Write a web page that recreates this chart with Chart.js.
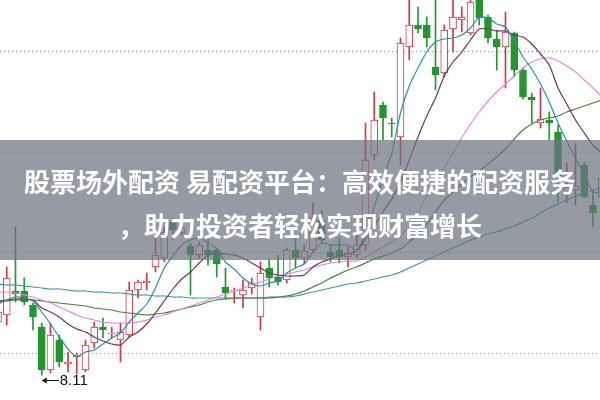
<!DOCTYPE html>
<html>
<head>
<meta charset="utf-8">
<title>K线</title>
<script src="https://cdn.jsdelivr.net/npm/chart.js@4.4.0/dist/chart.umd.min.js"></script>
<style>
  html, body { margin: 0; padding: 0; background: #fff; }
  #wrap { position: relative; width: 600px; height: 400px; overflow: hidden; }
  #kline { display: block; }
  #banner {
    position: absolute; left: 0; top: 140px; width: 600px; height: 120px;
    background: rgba(108, 115, 128, 0.72);
    padding-top: 19px; box-sizing: border-box;
  }
  #banner .line {
    font-family: "Noto Sans CJK SC", "Noto Sans", sans-serif;
    font-weight: 700; font-size: 26px; line-height: 44px;
    color: #fff; text-align: center; white-space: nowrap;
  }
</style>
</head>
<body>
<div id="wrap">
  <canvas id="kline" width="600" height="400"></canvas>
  <div id="banner">
    <div class="line">股票场外配资 易配资平台：高效便捷的配资服务</div>
    <div class="line">，助力投资者轻松实现财富增长</div>
  </div>
</div>
<script>
// =============================================
// Data (price per bar)
// =============================================
const opens = [8.64, 8.71, 8.95, 8.95, 8.81, 8.59, 8.16, 8.46, 8.22, 8.29,
  8.16, 8.43, 8.59, 8.52, 8.46, 8.51, 8.96, 9.03, 9.19, 9.28,
  9.64, 9.53, 9.40, 9.31, 9.36, 9.36, 8.99, 8.95, 8.91, 8.98,
  8.69, 9.18, 9.09, 9.06, 9.36, 9.28, 9.36, 9.66, 9.34, 9.36,
  9.29, 9.31, 9.41, 10.31, 10.81, 10.63, 10.49, 11.39, 11.61, 11.61,
  11.19, 11.13, 11.57, 11.66, 11.53, 11.91, 11.69, 11.47, 11.39, 11.53,
  11.16, 10.89, 10.63, 10.66, 10.54, 9.91, 9.96, 10.21, 9.81, 9.89];
const highs = [8.86, 9.19, 9.59, 9.08, 8.83, 8.63, 8.63, 8.51, 8.34, 8.33,
  8.46, 8.64, 8.68, 8.59, 8.63, 9.04, 9.06, 9.13, 9.54, 9.59,
  9.68, 9.61, 9.43, 9.44, 9.49, 9.38, 9.18, 8.98, 9.06, 9.08,
  9.24, 9.27, 9.31, 9.38, 9.50, 9.41, 9.83, 9.76, 9.41, 9.49,
  9.39, 9.56, 10.63, 10.94, 10.84, 10.68, 11.48, 11.91, 11.79, 11.69,
  11.96, 11.61, 11.91, 11.79, 11.88, 12.01, 11.71, 11.56, 11.74, 11.54,
  11.18, 10.93, 10.98, 10.74, 10.61, 10.23, 10.43, 10.24, 9.96, 10.16];
const lows = [8.56, 8.61, 8.84, 8.81, 8.56, 8.11, 8.13, 8.19, 8.14, 8.12,
  8.14, 8.38, 8.48, 8.48, 8.24, 8.49, 8.88, 8.96, 9.14, 9.24,
  9.46, 9.51, 8.91, 9.28, 9.21, 9.09, 8.87, 8.83, 8.78, 8.92,
  8.56, 8.99, 9.01, 9.03, 9.18, 9.22, 9.33, 9.43, 9.24, 9.23,
  9.19, 9.28, 9.36, 10.26, 10.46, 10.49, 10.21, 11.26, 11.53, 11.39,
  10.96, 11.09, 11.34, 11.54, 11.51, 11.61, 11.43, 11.16, 10.98, 11.09,
  10.87, 10.63, 10.58, 10.46, 9.84, 9.83, 9.81, 9.88, 9.59, 9.86];
const closes = [8.74, 9.08, 8.92, 8.84, 8.69, 8.16, 8.51, 8.24, 8.24, 8.31,
  8.41, 8.59, 8.56, 8.53, 8.54, 8.96, 9.04, 9.05, 9.31, 9.54,
  9.56, 9.58, 9.31, 9.41, 9.31, 9.22, 8.93, 8.96, 8.96, 9.03,
  9.13, 9.08, 9.04, 9.36, 9.28, 9.35, 9.68, 9.46, 9.29, 9.29,
  9.33, 9.41, 10.26, 10.66, 10.68, 10.62, 11.43, 11.61, 11.57, 11.48,
  11.11, 11.56, 11.69, 11.69, 11.84, 11.68, 11.48, 11.39, 11.54, 11.16,
  10.89, 10.86, 10.67, 10.63, 10.09, 9.99, 10.00, 9.89, 9.73, 10.08];

// Moving-average lines as drawn in the picture
const ma5 = [8.82, 8.86, 8.89, 8.88, 8.85, 8.74, 8.62, 8.49, 8.37, 8.29,
  8.34, 8.36, 8.42, 8.48, 8.53, 8.64, 8.73, 8.82, 8.98, 9.18,
  9.30, 9.41, 9.46, 9.48, 9.43, 9.37, 9.24, 9.17, 9.08, 9.02,
  9.00, 9.03, 9.05, 9.13, 9.18, 9.22, 9.34, 9.43, 9.41, 9.41,
  9.41, 9.36, 9.52, 9.79, 10.07, 10.33, 10.73, 11.00, 11.18, 11.34,
  11.44, 11.47, 11.48, 11.51, 11.58, 11.69, 11.68, 11.62, 11.59, 11.45,
  11.29, 11.17, 11.02, 10.84, 10.63, 10.45, 10.28, 10.12, 9.94, 9.94];
const ma10 = [8.85, 8.86, 8.87, 8.87, 8.86, 8.78, 8.74, 8.69, 8.62, 8.57,
  8.54, 8.49, 8.45, 8.42, 8.41, 8.49, 8.54, 8.62, 8.73, 8.85,
  8.97, 9.07, 9.14, 9.23, 9.31, 9.33, 9.32, 9.31, 9.28, 9.23,
  9.18, 9.13, 9.11, 9.10, 9.10, 9.11, 9.19, 9.24, 9.27, 9.30,
  9.32, 9.35, 9.47, 9.60, 9.74, 9.87, 10.04, 10.26, 10.49, 10.70,
  10.88, 11.10, 11.24, 11.34, 11.46, 11.57, 11.57, 11.55, 11.55, 11.51,
  11.49, 11.42, 11.32, 11.21, 10.98, 10.82, 10.66, 10.53, 10.41, 10.33];
const ma20 = [8.94, 8.94, 8.93, 8.91, 8.89, 8.86, 8.83, 8.79, 8.75, 8.71,
  8.68, 8.66, 8.64, 8.63, 8.63, 8.63, 8.64, 8.66, 8.69, 8.71,
  8.74, 8.77, 8.80, 8.83, 8.86, 8.89, 8.92, 8.95, 8.98, 9.01,
  9.04, 9.07, 9.10, 9.12, 9.14, 9.16, 9.19, 9.21, 9.23, 9.24,
  9.25, 9.25, 9.29, 9.34, 9.39, 9.44, 9.50, 9.60, 9.74, 9.90,
  10.04, 10.18, 10.33, 10.48, 10.62, 10.74, 10.85, 10.94, 11.02, 11.10,
  11.18, 11.24, 11.27, 11.28, 11.25, 11.20, 11.14, 11.06, 10.98, 10.89];
const ma30 = [8.84, 8.85, 8.86, 8.86, 8.86, 8.85, 8.84, 8.83, 8.82, 8.81,
  8.80, 8.78, 8.77, 8.76, 8.74, 8.73, 8.72, 8.71, 8.72, 8.73,
  8.75, 8.77, 8.79, 8.81, 8.84, 8.86, 8.87, 8.88, 8.88, 8.88,
  8.88, 8.88, 8.89, 8.90, 8.92, 8.95, 8.99, 9.03, 9.08, 9.12,
  9.16, 9.19, 9.23, 9.27, 9.30, 9.33, 9.37, 9.44, 9.52, 9.62,
  9.74, 9.86, 9.94, 10.02, 10.09, 10.15, 10.22, 10.29, 10.37, 10.47,
  10.56, 10.62, 10.66, 10.68, 10.70, 10.74, 10.77, 10.80, 10.83, 10.86];
const ma60 = [9.02, 9.01, 9.01, 9.00, 8.99, 8.98, 8.97, 8.97, 8.96, 8.95,
  8.95, 8.94, 8.94, 8.93, 8.93, 8.92, 8.91, 8.91, 8.90, 8.90,
  8.89, 8.89, 8.88, 8.88, 8.88, 8.88, 8.88, 8.88, 8.88, 8.88,
  8.88, 8.89, 8.89, 8.89, 8.90, 8.92, 8.94, 8.96, 8.98, 9.00,
  9.02, 9.03, 9.05, 9.07, 9.09, 9.11, 9.14, 9.18, 9.22, 9.26,
  9.30, 9.34, 9.38, 9.42, 9.46, 9.49, 9.52, 9.54, 9.57, 9.60,
  9.64, 9.68, 9.73, 9.78, 9.82, 9.86, 9.90, 9.93, 9.96, 9.99];

// dotted price grid lines
const gridPrices = [8.33, 9.34, 10.33, 11.34];

// =============================================
// Styles
// =============================================
const RED   = '#d2364c';
const GREEN = '#23962f';

const idx = closes.map((_, i) => i);
const upBar = idx.map(i => closes[i] >= opens[i]);
const barColor = idx.map(i => upBar[i] ? RED : GREEN);

function maDataset(values, color) {
  return {
    type: 'line',
    data: idx.map(i => ({ x: i, y: values[i] })),
    borderColor: color,
    borderWidth: 1.2,
    pointRadius: 0,
    tension: 0.25,
    order: 0
  };
}

// low-price marker ("← 8.11")
const lowMarker = {
  id: 'lowMarker',
  afterDatasetsDraw(chart) {
    const { ctx, scales: { x, y } } = chart;
    let k = 0;
    lows.forEach((v, i) => { if (v < lows[k]) k = i; });
    const px = x.getPixelForValue(k);
    const py = y.getPixelForValue(lows[k]) + 5;
    ctx.save();
    ctx.strokeStyle = '#111';
    ctx.fillStyle = '#111';
    ctx.lineWidth = 1;
    ctx.beginPath();
    ctx.moveTo(px + 1, py + 0.5);
    ctx.lineTo(px + 17, py + 0.5);
    ctx.stroke();
    ctx.beginPath();
    ctx.moveTo(px, py + 0.5);
    ctx.lineTo(px + 5, py - 2.5);
    ctx.lineTo(px + 5, py + 3.5);
    ctx.closePath();
    ctx.fill();
    ctx.font = '15px "Liberation Sans", Arial, sans-serif';
    ctx.textBaseline = 'middle';
    ctx.fillText(lows[k].toFixed(2), px + 18, py + 1);
    ctx.restore();
  }
};

// =============================================
// Chart
// =============================================
new Chart(document.getElementById('kline'), {
  type: 'bar',
  data: {
    datasets: [
      maDataset(ma5,  '#2f8fa6'),
      maDataset(ma10, '#6e3659'),
      maDataset(ma20, '#e389dc'),
      maDataset(ma30, '#4f7f3c'),
      maDataset(ma60, '#3e9c98'),
      {
        // candle bodies
        data: idx.map(i => ({ x: i, y: [opens[i], closes[i]] })),
        backgroundColor: idx.map(i => upBar[i] ? '#ffffff' : GREEN),
        borderColor: barColor,
        borderWidth: 1,
        borderSkipped: false,
        barThickness: 7,
        minBarLength: 1,
        grouped: false,
        order: 1
      },
      {
        // wicks
        data: idx.map(i => ({ x: i, y: [lows[i], highs[i]] })),
        backgroundColor: barColor,
        borderWidth: 0,
        barThickness: 1,
        grouped: false,
        order: 2
      }
    ]
  },
  options: {
    responsive: false,
    animation: false,
    devicePixelRatio: 1,
    layout: { padding: 0, autoPadding: false },
    plugins: { legend: { display: false }, tooltip: { enabled: false } },
    scales: {
      x: {
        type: 'linear',
        min: 0.23,
        max: 68.8,
        offset: false,
        display: false
      },
      y: {
        type: 'linear',
        min: 7.86,
        max: 11.86,
        afterBuildTicks: (scale) => { scale.ticks = gridPrices.map(v => ({ value: v })); },
        ticks: { display: false },
        grid: { color: '#8a8a8a', lineWidth: 1, drawTicks: false },
        border: { display: false, dash: [1, 3] }
      }
    }
  },
  plugins: [lowMarker]
});
</script>
</body>
</html>
